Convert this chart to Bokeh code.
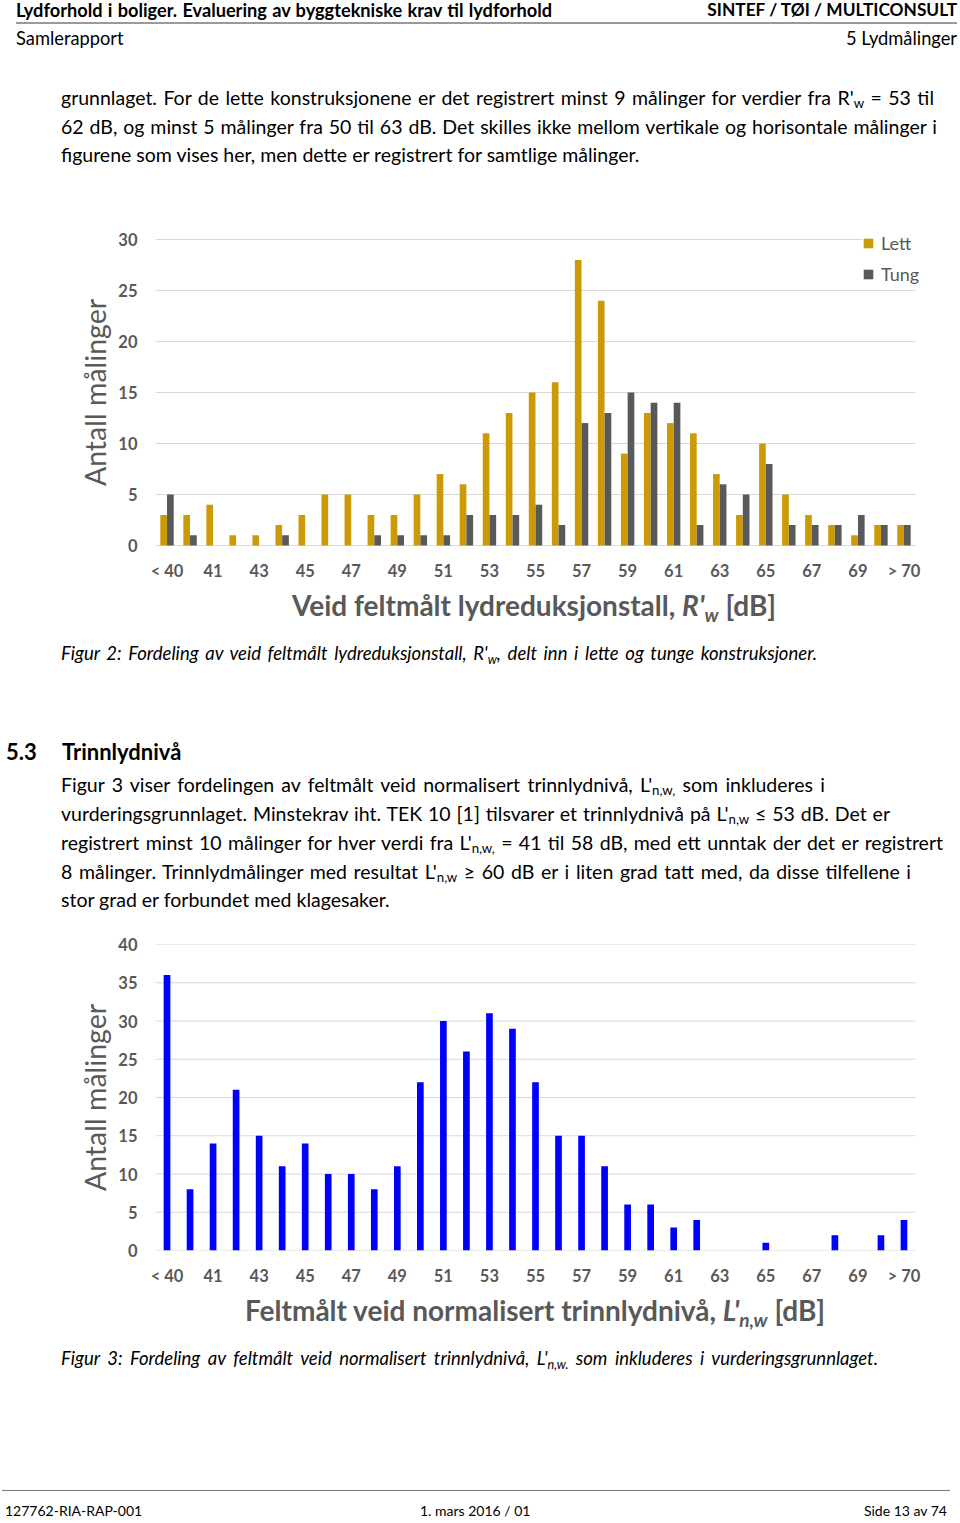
import numpy as np
from bokeh.plotting import figure
from bokeh.models import Div, Range1d, FixedTicker, Legend, LegendItem
from bokeh.layouts import column
from bokeh.embed import file_html
from bokeh.resources import INLINE

# ---------------- data ----------------
categories = ["< 40"] + [str(v) for v in range(40, 71)] + ["> 70"]
lett = [3, 3, 4, 1, 1, 2, 3, 5, 5, 3,
        3, 5, 7, 6, 11, 13, 15, 16, 28, 24, 9,
        13, 12, 11, 7, 3, 10, 5, 3, 2, 1, 2,
        2]
tung = [5, 1, 0, 0, 0, 1, 0, 0, 0, 1,
        1, 1, 1, 3, 3, 3, 4, 2, 12, 13, 15,
        14, 14, 2, 6, 5, 8, 2, 2, 2, 3, 2,
        2]
trinnlyd = [36, 8, 14, 21, 15, 11, 14, 10, 10, 8,
            11, 22, 30, 26, 31, 29, 22, 15, 15, 11, 6,
            6, 3, 4, 0, 0, 1, 0, 0, 2, 0, 2,
            4]
series_names = ["Lett", "Tung"]
y_title = "Antall målinger"

FONT = "Lato"
GOLD = "#CC9A06"
DARK = "#595959"
BLUE = "#0000FF"
GRID = "#D9D9D9"
W = 960

idx = np.arange(len(categories))
label_overrides = {int(i): (categories[i] if i % 2 == 0 else "") for i in idx}

N = len(categories)
UNIT_PX = 760 / N            # width of one category in pixels
EXTRA_PX = 10                # frame extends a little past the last gridline (room for the legend)
FRAME_H = 306                # pixel height of the value axis span


def make_chart(height, top_border, ymax, extra=0):
    unit_y = FRAME_H / ymax
    p = figure(width=W, height=height,
               x_range=Range1d(-0.5, N - 0.5 + EXTRA_PX / UNIT_PX),
               y_range=Range1d(-extra / unit_y, ymax + extra / unit_y),
               output_backend="svg", toolbar_location=None,
               min_border_left=155, min_border_right=45 - EXTRA_PX,
               min_border_top=top_border - extra, min_border_bottom=43 - extra)
    p.outline_line_color = None
    p.background_fill_color = "white"
    p.border_fill_color = "white"
    p.xgrid.visible = False
    p.ygrid.visible = False
    yticks = list(range(0, ymax + 1, 5))
    # horizontal gridlines spanning the categories only
    p.segment(x0=[-0.5] * len(yticks), x1=[N - 0.5] * len(yticks), y0=yticks, y1=yticks,
              line_color=GRID, line_width=1)
    p.xaxis.ticker = FixedTicker(ticks=list(map(int, idx)))
    p.xaxis.major_label_overrides = label_overrides
    p.xaxis.axis_line_color = None
    p.yaxis.ticker = FixedTicker(ticks=yticks)
    p.yaxis.axis_line_color = None
    for ax in (p.xaxis[0], p.yaxis[0]):
        ax.major_tick_line_color = None
        ax.minor_tick_line_color = None
        ax.major_tick_out = 0
        ax.major_tick_in = 0
        ax.minor_tick_out = 0
        ax.major_label_text_font = FONT
        ax.major_label_text_font_size = "16.5px"
        ax.major_label_text_font_style = "bold"
        ax.major_label_text_color = DARK
    p.xaxis.major_label_standoff = 15 - extra
    p.yaxis.major_label_standoff = 18
    p.yaxis.axis_label = y_title
    p.yaxis.axis_label_text_font = FONT
    p.yaxis.axis_label_text_font_size = "28.5px"
    p.yaxis.axis_label_text_font_style = "normal"
    p.yaxis.axis_label_text_color = DARK
    p.yaxis.axis_label_standoff = 3
    return p


# chart 1
p1 = make_chart(373, 24, 30, extra=10)
r1 = p1.vbar(x=idx - 0.146, top=lett, width=0.29, fill_color=GOLD, line_color=None)
r2 = p1.vbar(x=idx + 0.146, top=tung, width=0.29, fill_color=DARK, line_color=None)
legend = Legend(items=[LegendItem(label=series_names[0], renderers=[r1]),
                       LegendItem(label=series_names[1], renderers=[r2])],
                location=(707, 270), glyph_width=12, glyph_height=12, label_standoff=7,
                spacing=9, padding=6, label_height=22,
                label_text_font=FONT, label_text_font_size="18px", label_text_color=DARK,
                background_fill_color="white", background_fill_alpha=1.0,
                border_line_color=None)
p1.add_layout(legend)

# chart 2
p2 = make_chart(363, 14, 40)
p2.vbar(x=idx, top=trinnlyd, width=0.29, fill_color=BLUE, line_color=None)


# ---------------- page text ----------------
def sub(t):
    return f'<span style="font-size:0.68em;position:relative;top:0.3em;">{t}</span>'


def box(px, pyc, html, size, origin, weight=400, style="normal", color="#000",
        align="left", x_end=None):
    ox, oy = origin
    lh = round(size * 1.3)
    top = pyc - oy - lh / 2
    css = (f"position:absolute;top:{top:.1f}px;font-size:{size}px;line-height:{lh}px;"
           f"font-weight:{weight};font-style:{style};color:{color};")
    if align == "left":
        css += f"left:{px - ox}px;white-space:nowrap;"
    elif align == "right":
        css += f"right:{ox + W - px}px;text-align:right;white-space:nowrap;"
    elif align == "center":
        css += f"left:{px - ox - 450}px;width:900px;text-align:center;white-space:nowrap;"
    elif align == "justify":
        css += (f"left:{px - ox}px;width:{x_end - px}px;text-align:justify;"
                f"text-align-last:justify;")
    return f'<div style="{css}">{html}</div>'


def rule(px, py, x_end, origin, thick, color):
    ox, oy = origin
    return (f'<div style="position:absolute;left:{px - ox}px;top:{py - oy}px;'
            f'width:{x_end - px}px;height:0;border-top:{thick}px solid {color};"></div>')


def page_div(parts, height):
    html = (f'<div style="position:relative;width:{W}px;height:{height}px;'
            f'font-family:{FONT},sans-serif;">' + "".join(parts) + "</div>")
    return Div(text=html, width=W, height=height, margin=0)


BODY = 19.5
CAP = 18.5
o1 = (0, 0)
d1 = page_div([
    box(16, 10, "Lydforhold i boliger. Evaluering av byggtekniske krav til lydforhold", 18.2, o1,
        weight=700, align="justify", x_end=552),
    box(957, 10, "SINTEF / TØI / MULTICONSULT", 17.3, o1, weight=700, align="right"),
    rule(16, 22, 957, o1, 2, "#9a9a9a"),
    box(16, 38, "Samlerapport", 18.3, o1),
    box(957, 38, "5 Lydmålinger", 18.3, o1, align="right"),
    box(61, 97, "grunnlaget. For de lette konstruksjonene er det registrert minst 9 målinger for verdier fra R'"
        + sub("w") + " = 53 til", BODY, o1, align="justify", x_end=934),
    box(61, 126, "62 dB, og minst 5 målinger fra 50 til 63 dB. Det skilles ikke mellom vertikale og horisontale målinger i",
        BODY, o1, align="justify", x_end=937),
    box(61, 154, "figurene som vises her, men dette er registrert for samtlige målinger.", BODY, o1),
], 215)

o2 = (0, 588)
d2 = page_div([
    box(534, 605, "Veid feltmålt lydreduksjonstall, <i>R'</i>" + sub("<i>w</i>") + " [dB]", 28, o2,
        weight=700, color=DARK, align="center"),
    box(61, 653, "Figur 2: Fordeling av veid feltmålt lydreduksjonstall, R'" + sub("w") +
        ", delt inn i lette og tunge konstruksjoner.", CAP, o2, style="italic", align="justify", x_end=817),
    box(6, 751, "5.3", 22, o2, weight=700),
    box(62, 751, "Trinnlydnivå", 22, o2, weight=700),
    box(61, 784, "Figur 3 viser fordelingen av feltmålt veid normalisert trinnlydnivå, L'" + sub("n,w,")
        + " som inkluderes i", BODY, o2, align="justify", x_end=825),
    box(61, 813, "vurderingsgrunnlaget. Minstekrav iht. TEK 10 [1] tilsvarer et trinnlydnivå på L'" + sub("n,w")
        + " ≤ 53 dB. Det er", BODY, o2, align="justify", x_end=890),
    box(61, 842, "registrert minst 10 målinger for hver verdi fra L'" + sub("n,w,")
        + " = 41 til 58 dB, med ett unntak der det er registrert", BODY, o2, align="justify", x_end=943),
    box(61, 871, "8 målinger. Trinnlydmålinger med resultat L'" + sub("n,w")
        + " ≥ 60 dB er i liten grad tatt med, da disse tilfellene i", BODY, o2, align="justify", x_end=911),
    box(61, 899, "stor grad er forbundet med klagesaker.", BODY, o2),
], 342)

o3 = (0, 1293)
d3 = page_div([
    box(535, 1310, "Feltmålt veid normalisert trinnlydnivå, <i>L'</i>" + sub("<i>n,w</i>") + " [dB]", 28, o3,
        weight=700, color=DARK, align="center"),
    box(61, 1358, "Figur 3: Fordeling av feltmålt veid normalisert trinnlydnivå, L'" + sub("n,w.")
        + " som inkluderes i vurderingsgrunnlaget.", CAP, o3, style="italic", align="justify", x_end=878),
    rule(2, 1490, 950, o3, 1.5, "#777777"),
    box(5, 1511, "127762-RIA-RAP-001", 14, o3),
    box(420, 1511, "1. mars 2016 / 01", 14, o3),
    box(947, 1511, "Side 13 av 74", 14, o3, align="right"),
], 230)

page = column(d1, p1, d2, p2, d3, spacing=0)

with open("out.html", "w") as f:
    f.write(file_html(page, INLINE))
